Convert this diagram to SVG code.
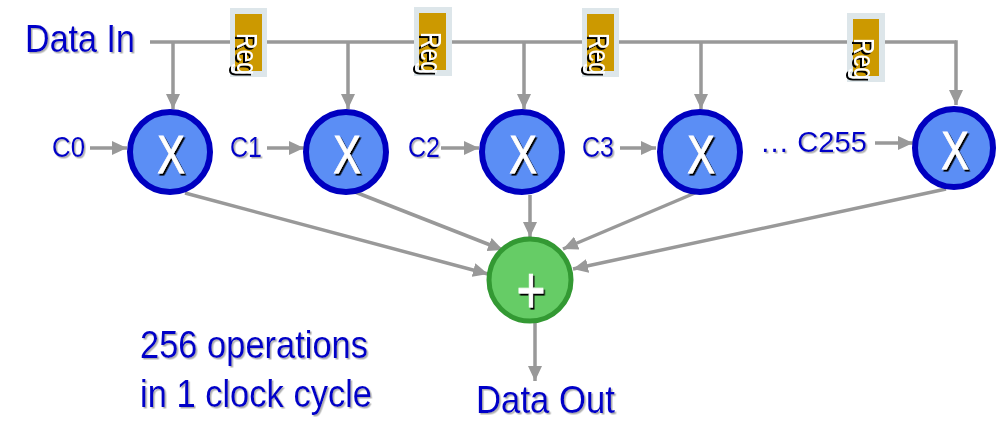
<svg xmlns="http://www.w3.org/2000/svg" width="1001" height="422" viewBox="0 0 1001 422">
<defs>
<marker id="ah" markerUnits="userSpaceOnUse" markerWidth="16" markerHeight="14" refX="15" refY="7" orient="auto">
<path d="M0,0 L15,7 L0,14 z" fill="#999999"/>
</marker>
<filter id="ls" x="-10%" y="-10%" width="130%" height="140%"><feDropShadow dx="1.5" dy="1.5" stdDeviation="0.6" flood-color="#9a9a9a" flood-opacity="0.8"/></filter>
<filter id="ds" x="-20%" y="-20%" width="150%" height="150%"><feDropShadow dx="2" dy="2" stdDeviation="0.3" flood-color="#000000" flood-opacity="1"/></filter>
</defs>
<style>
.lbl{font-family:"Liberation Sans Narrow","Liberation Sans",Arial,sans-serif;fill:#0000C8;filter:url(#ls)}
.wire{stroke:#999999;stroke-width:3.5;fill:none}
.arr{stroke:#999999;stroke-width:3.5;fill:none;marker-end:url(#ah)}
.mul{fill:#5B8EF5;stroke:#0000C0;stroke-width:6}
.add{fill:#66CC66;stroke:#339933;stroke-width:5}
.sym{font-family:"Liberation Sans Narrow","Liberation Sans",Arial,sans-serif;fill:#ffffff;stroke:#ffffff;stroke-width:0.8;filter:url(#ds);text-anchor:middle}
.regbg{fill:#DDE6EA}
.reg{fill:#CC9900}
.regt{font-family:"Liberation Sans Narrow","Liberation Sans",Arial,sans-serif;font-size:29px;fill:#ffffff;filter:url(#ds)}
</style>
<rect width="1001" height="422" fill="#ffffff"/>

<g id="connectors">
<polyline class="wire" points="150,42 956,42"/>
<line class="arr" x1="173" y1="42" x2="173" y2="109"/>
<line class="arr" x1="348" y1="42" x2="348" y2="109"/>
<line class="arr" x1="524" y1="42" x2="524" y2="109"/>
<line class="arr" x1="701" y1="42" x2="701" y2="109"/>
<polyline class="arr" points="955,42 956,42 956,105"/>
<line class="arr" x1="90" y1="148" x2="127" y2="148"/>
<line class="arr" x1="267" y1="148" x2="304" y2="148"/>
<line class="arr" x1="441" y1="148" x2="479" y2="148"/>
<line class="arr" x1="620" y1="148" x2="656" y2="148"/>
<line class="arr" x1="875" y1="143" x2="913" y2="143"/>
<line class="arr" x1="185" y1="193" x2="488" y2="274"/>
<line class="arr" x1="355" y1="192" x2="503" y2="250"/>
<line class="arr" x1="530" y1="195" x2="530" y2="237"/>
<line class="arr" x1="702" y1="190" x2="563" y2="249"/>
<line class="arr" x1="946" y1="189" x2="573" y2="269"/>
<line class="arr" x1="535" y1="323" x2="535" y2="381"/>
</g>

<g id="reg1"><rect class="regbg" x="230" y="8" width="37" height="69"/><rect class="reg" x="235" y="14" width="27" height="57"/><text class="regt" transform="translate(237,33) rotate(90)" textLength="42" lengthAdjust="spacingAndGlyphs">Reg</text></g>
<g id="reg2"><rect class="regbg" x="414" y="7" width="38" height="69"/><rect class="reg" x="419" y="13" width="27" height="57"/><text class="regt" transform="translate(421,32) rotate(90)" textLength="42" lengthAdjust="spacingAndGlyphs">Reg</text></g>
<g id="reg3"><rect class="regbg" x="582" y="8" width="37" height="69"/><rect class="reg" x="587" y="14" width="27" height="57"/><text class="regt" transform="translate(589,33) rotate(90)" textLength="42" lengthAdjust="spacingAndGlyphs">Reg</text></g>
<g id="reg4"><rect class="regbg" x="847" y="13" width="38" height="69"/><rect class="reg" x="853" y="19" width="26" height="57"/><text class="regt" transform="translate(854,38) rotate(90)" textLength="42" lengthAdjust="spacingAndGlyphs">Reg</text></g>

<g id="datain"><text class="lbl" x="25" y="52" font-size="39" textLength="110" lengthAdjust="spacingAndGlyphs">Data In</text></g>

<g id="c0"><text class="lbl" x="52" y="157" font-size="29" textLength="33" lengthAdjust="spacingAndGlyphs">C0</text></g>
<g id="c1"><text class="lbl" x="230" y="157" font-size="29" textLength="32" lengthAdjust="spacingAndGlyphs">C1</text></g>
<g id="c2"><text class="lbl" x="408" y="157" font-size="29" textLength="32" lengthAdjust="spacingAndGlyphs">C2</text></g>
<g id="c3"><text class="lbl" x="582" y="157" font-size="29" textLength="32" lengthAdjust="spacingAndGlyphs">C3</text></g>
<g id="c255"><text class="lbl" x="760" y="152" font-size="29" textLength="107" lengthAdjust="spacingAndGlyphs">… C255</text></g>

<g id="mul1"><circle class="mul" cx="170" cy="152" r="40"/><text class="sym" transform="translate(171,173) scale(0.78,1)" font-size="53">X</text></g>
<g id="mul2"><circle class="mul" cx="346" cy="152" r="40"/><text class="sym" transform="translate(347,173) scale(0.78,1)" font-size="53">X</text></g>
<g id="mul3"><circle class="mul" cx="522" cy="152" r="40"/><text class="sym" transform="translate(523,173) scale(0.78,1)" font-size="53">X</text></g>
<g id="mul4"><circle class="mul" cx="700" cy="152" r="40"/><text class="sym" transform="translate(701,173) scale(0.78,1)" font-size="53">X</text></g>
<g id="mul5"><circle class="mul" cx="954" cy="148" r="39"/><text class="sym" transform="translate(955,169) scale(0.78,1)" font-size="53">X</text></g>

<g id="adder"><circle class="add" cx="530" cy="280" r="41"/><text class="sym" transform="translate(531,313) scale(0.75,1)" font-size="66">+</text></g>

<g id="dataout"><text class="lbl" x="476" y="413" font-size="39" textLength="139" lengthAdjust="spacingAndGlyphs">Data Out</text></g>
<g id="note">
<text class="lbl" x="140" y="358" font-size="39" textLength="228" lengthAdjust="spacingAndGlyphs">256 operations</text>
<text class="lbl" x="140" y="407" font-size="39" textLength="232" lengthAdjust="spacingAndGlyphs">in 1 clock cycle</text>
</g>
</svg>
